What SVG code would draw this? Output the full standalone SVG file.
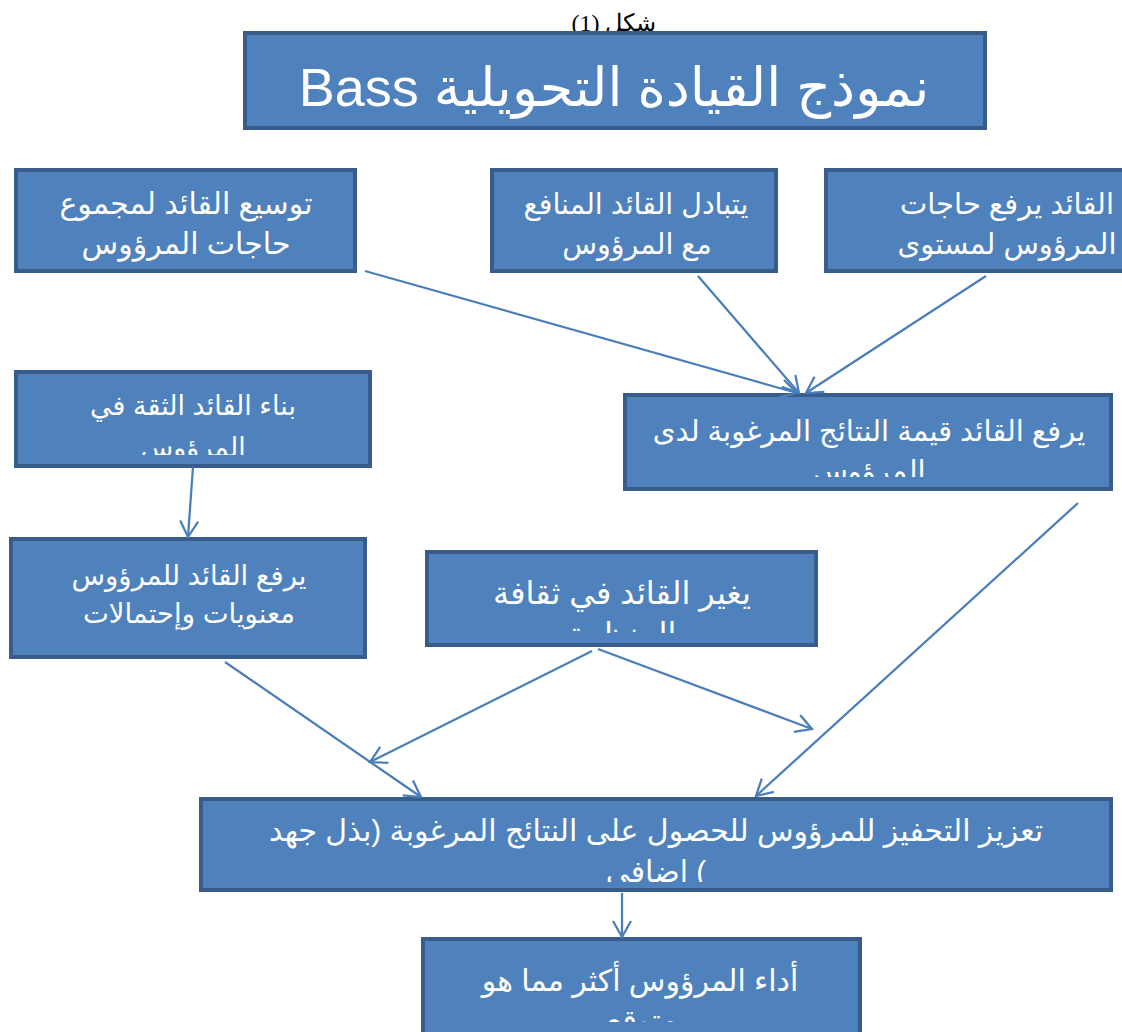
<svg xmlns="http://www.w3.org/2000/svg" width="1122" height="1032" viewBox="0 0 1122 1032">
  <style>
    .box { fill: #4F81BD; stroke: #385D8A; stroke-width: 4; }
    .t { fill: #FFFFFF; font-family: "Liberation Sans", "DejaVu Sans", sans-serif; font-size: 27px; direction: rtl; text-anchor: middle; }
    .title { font-size: 54px; }
    .cap { fill: #000000; font-family: "Liberation Serif", "DejaVu Serif", serif; font-size: 24px; direction: rtl; text-anchor: middle; }
    .conn line { stroke: #4A7EBB; stroke-width: 2.25; fill: none; marker-end: url(#arr); }
  </style>
  <defs>
    <marker id="arr" viewBox="-18 -11 20 22" refX="0" refY="0" markerWidth="20" markerHeight="22" markerUnits="userSpaceOnUse" orient="auto">
      <path d="M-16,-9 L0,0 L-16,9" fill="none" stroke="#4A7EBB" stroke-width="2.25"/>
    </marker>
    <clipPath id="c1"><rect x="16" y="170" width="339" height="101"/></clipPath>
    <clipPath id="c2"><rect x="492" y="170" width="284" height="101"/></clipPath>
    <clipPath id="c3"><rect x="826" y="170" width="296" height="101"/></clipPath>
    <clipPath id="c4"><rect x="16" y="373" width="354" height="82"/></clipPath>
    <clipPath id="c5"><rect x="625" y="395" width="486" height="82"/></clipPath>
    <clipPath id="c6"><rect x="11" y="539" width="354" height="110"/></clipPath>
    <clipPath id="c7"><rect x="427" y="552" width="389" height="81"/></clipPath>
    <clipPath id="c8"><rect x="201" y="799" width="910" height="83"/></clipPath>
    <clipPath id="c9"><rect x="423" y="939" width="435" height="83"/></clipPath>
  </defs>

  <!-- caption above the title -->
  <text class="cap" x="614" y="31">شكل (1)</text>

  <!-- title -->
  <g id="title">
    <rect class="box" x="245" y="33" width="740" height="95"/>
    <text class="t title" x="614" y="106">نموذج القيادة التحويلية Bass</text>
  </g>

  <!-- top row -->
  <g id="n1">
    <rect class="box" x="16" y="170" width="339" height="101"/>
    <g clip-path="url(#c1)" style="font-size:30px">
      <text class="t" x="186" y="214" style="font-size:30px">توسيع  القائد لمجموع</text>
      <text class="t" x="186" y="254" style="font-size:30px">حاجات المرؤوس</text>
    </g>
  </g>
  <g id="n2">
    <rect class="box" x="492" y="170" width="284" height="101"/>
    <g clip-path="url(#c2)">
      <text class="t" x="636" y="214" style="font-size:28.5px">يتبادل القائد المنافع</text>
      <text class="t" x="637" y="254" style="font-size:28.5px">مع المرؤوس</text>
    </g>
  </g>
  <g id="n3">
    <rect class="box" x="826" y="170" width="330" height="101"/>
    <g clip-path="url(#c3)">
      <text class="t" x="1007" y="214" style="font-size:29px">القائد يرفع حاجات</text>
      <text class="t" x="1007" y="254" style="font-size:29px">المرؤوس لمستوى</text>
    </g>
  </g>

  <!-- middle row -->
  <g id="n4">
    <rect class="box" x="16" y="372" width="354" height="94"/>
    <g clip-path="url(#c4)">
      <text class="t" x="193" y="415">بناء القائد الثقة في</text>
      <text class="t" x="193" y="457">المرؤوس</text>
    </g>
  </g>
  <g id="n5">
    <rect class="box" x="625" y="395" width="486" height="94"/>
    <g clip-path="url(#c5)">
      <text class="t" x="869" y="441" style="font-size:29px">يرفع القائد قيمة النتائج المرغوبة لدى</text>
      <text class="t" x="869" y="481" style="font-size:29px">المرؤوس</text>
    </g>
  </g>
  <g id="n6">
    <rect class="box" x="11" y="539" width="354" height="118"/>
    <g clip-path="url(#c6)">
      <text class="t" x="189" y="585" style="font-size:27.5px">يرفع القائد للمرؤوس</text>
      <text class="t" x="189" y="623" style="font-size:27.5px">معنويات وإحتمالات</text>
    </g>
  </g>
  <g id="n7">
    <rect class="box" x="427" y="552" width="389" height="93"/>
    <g clip-path="url(#c7)">
      <text class="t" x="622" y="604" style="font-size:32px">يغير القائد في ثقافة</text>
      <text class="t" x="622" y="645" style="font-size:32px">المنظمة</text>
    </g>
  </g>

  <!-- bottom row -->
  <g id="n8">
    <rect class="box" x="201" y="799" width="910" height="91"/>
    <g clip-path="url(#c8)">
      <text class="t" x="656" y="841" style="font-size:30px">تعزيز التحفيز للمرؤوس للحصول على النتائج المرغوبة (بذل جهد</text>
      <text class="t" x="656" y="882" style="font-size:30px">) اضافي</text>
    </g>
  </g>
  <g id="n9">
    <rect class="box" x="423" y="939" width="437" height="110"/>
    <g clip-path="url(#c9)">
      <text class="t" x="640" y="991" style="font-size:30px">أداء المرؤوس أكثر مما هو</text>
      <text class="t" x="642" y="1031" style="font-size:30px">متوقع</text>
    </g>
  </g>

  <!-- connectors -->
  <g id="connectors" class="conn">
    <line x1="365" y1="271" x2="797" y2="393"/>
    <line x1="698" y1="276" x2="799" y2="393"/>
    <line x1="986" y1="276" x2="806" y2="393"/>
    <line x1="193" y1="467" x2="188" y2="537"/>
    <line x1="1078" y1="503" x2="756" y2="796"/>
    <line x1="225" y1="662" x2="421" y2="797"/>
    <line x1="592" y1="651" x2="370" y2="762"/>
    <line x1="598" y1="649" x2="812" y2="729"/>
    <line x1="622" y1="893" x2="622" y2="937"/>
  </g>
</svg>
